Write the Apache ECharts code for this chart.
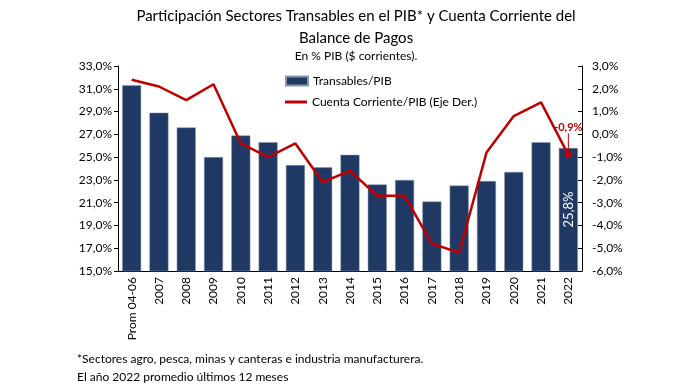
<!DOCTYPE html>
<html><head><meta charset="utf-8">
<script src="https://cdn.jsdelivr.net/npm/echarts@6/dist/echarts.min.js"></script>
<style>html,body{margin:0;padding:0;background:#fff}#c{width:679px;height:388px}</style>
</head><body><div id="c"></div>
<script>
var categories = ['Prom 04-06','2007','2008','2009','2010','2011','2012','2013','2014','2015','2016','2017','2018','2019','2020','2021','2022'];
var transables = [31.3,28.9,27.6,25.0,26.9,26.3,24.3,24.1,25.2,22.6,23.0,21.1,22.5,22.9,23.7,26.3,25.8];
var cuentaCorriente = [2.4,2.1,1.5,2.2,-0.4,-1.0,-0.4,-2.1,-1.6,-2.7,-2.7,-4.8,-5.2,-0.8,0.8,1.4,-0.9];
var leftTicks = {min:15, max:33, interval:2};
var rightTicks = {min:-6, max:3, interval:1};

var FONT = 'Lato, "Liberation Sans", sans-serif';
function fmt(v){ return v.toFixed(1).replace('.', ',') + '%'; }
var last = categories.length - 1;
var barData = transables.map(function(v,i){
  if (i === last) return {value:v, label:{show:true, position:'inside', rotate:90, color:'#fff', fontSize:13, fontFamily:FONT, formatter:function(p){return fmt(p.value);}}};
  return v;
});
var lineData = cuentaCorriente.map(function(v,i){
  if (i === last) return {value:v, label:{show:true, position:'top', distance:4, color:'#c00000', fontSize:11, fontWeight:'bold', fontFamily:FONT, formatter:function(p){return fmt(p.value);}}};
  return v;
});

var chart = echarts.init(document.getElementById('c'), null, {renderer:'canvas'});
chart.setOption({
  animation:false,
  textStyle:{fontFamily:FONT},
  title:[
    {text:'Participación Sectores Transables en el PIB* y Cuenta Corriente del\nBalance de Pagos', left:351, textAlign:'center', top:0,
     textStyle:{fontSize:15, fontWeight:'normal', color:'#000', lineHeight:22, fontFamily:FONT}},
    {text:'En % PIB ($ corrientes).', left:351, textAlign:'center', top:45,
     textStyle:{fontSize:12, fontWeight:'normal', color:'#000', fontFamily:FONT}},
    {text:'*Sectores agro, pesca, minas y canteras e industria manufacturera.\nEl año 2022 promedio últimos 12 meses', left:72, top:345,
     textStyle:{fontSize:12, fontWeight:'normal', color:'#000', lineHeight:18, fontFamily:FONT}}
  ],
  legend:[
    {data:['Transables/PIB'], left:280, top:70, icon:'rect', itemWidth:22, itemHeight:9, itemGap:4,
     textStyle:{fontSize:12, color:'#000', fontFamily:FONT}},
    {data:['Cuenta Corriente/PIB (Eje Der.)'], left:280, top:91, icon:'rect', itemWidth:22, itemHeight:3, itemGap:4,
     textStyle:{fontSize:12, color:'#000', fontFamily:FONT}}
  ],
  grid:{left:118, right:97, top:66, bottom:117, containLabel:false},
  xAxis:{type:'category', data:categories,
    axisLine:{onZero:false, lineStyle:{color:'#000', width:1}}, axisTick:{show:false},
    axisLabel:{rotate:90, color:'#000', fontSize:12, fontFamily:FONT, interval:0, margin:6}},
  yAxis:[
    {type:'value', min:leftTicks.min, max:leftTicks.max, interval:leftTicks.interval,
     axisLine:{show:true, lineStyle:{color:'#000'}}, axisTick:{show:true, length:4, lineStyle:{color:'#000'}},
     splitLine:{show:false}, axisLabel:{color:'#000', fontSize:12, fontFamily:FONT, margin:6, formatter:function(v){return fmt(v);}}},
    {type:'value', min:rightTicks.min, max:rightTicks.max, interval:rightTicks.interval, position:'right',
     axisLine:{show:true, lineStyle:{color:'#000'}}, axisTick:{show:true, inside:true, length:4, lineStyle:{color:'#000'}},
     splitLine:{show:false}, axisLabel:{color:'#000', fontSize:12, fontFamily:FONT, margin:10, formatter:function(v){return fmt(v);}}}
  ],
  series:[
    {name:'Transables/PIB', type:'bar', yAxisIndex:0, data:barData, barWidth:19,
     itemStyle:{color:'#1f3864', borderColor:'#8a97ae', borderWidth:0.5}},
    {name:'Cuenta Corriente/PIB (Eje Der.)', type:'line', yAxisIndex:1, data:lineData,
     symbol:'circle', symbolSize:function(v,p){return p.dataIndex===last?7:0;}, showSymbol:true,
     itemStyle:{color:'#c00000'}, lineStyle:{color:'#c00000', width:2.5},
     labelLayout:function(p){ if(p.dataIndex===last) return {dy:-14}; },
     labelLine:{show:true, lineStyle:{color:'#c00000', width:1}}}
  ]
});
</script></body></html>
